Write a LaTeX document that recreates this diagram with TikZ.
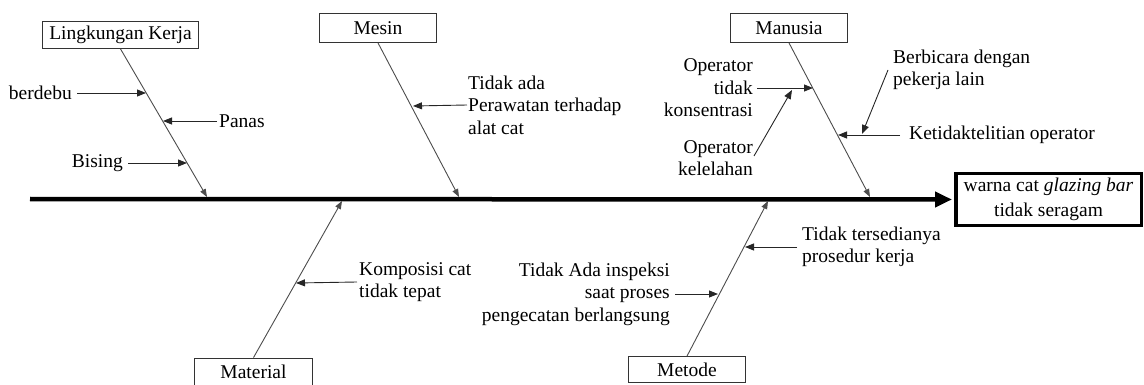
\documentclass[tikz,border=0pt]{standalone}
\usepackage{fontspec}
\setmainfont{Liberation Serif}
\newfontfamily\diagfont{Liberation Serif}
\usetikzlibrary{arrows.meta}
\begin{document}
\begin{tikzpicture}[x=1pt,y=-1pt,
  every node/.style={font=\diagfont\fontsize{19.5}{22.5}\selectfont, inner sep=0pt},
  catbox/.style={draw=black!80, line width=0.8pt, minimum height=29pt, minimum width=117pt},
  bone/.style={draw=black!70, line width=0.9pt, -{Triangle[length=8pt,width=6pt]}},
  sub/.style={draw=black!85, line width=0.9pt, -{Triangle[length=9pt,width=7pt]}},
  spine/.style={draw=black, line width=4.5pt, -{Triangle[length=17pt,width=15pt]}}]
\useasboundingbox (0,0) rectangle (1144,385);

% category boxes
\node[catbox, minimum width=156pt, minimum height=27pt] (LK) at (120.5,35) {Lingkungan Kerja};
\node[catbox, minimum height=29pt] (Me) at (378,28) {Mesin};
\node[catbox, minimum height=29pt] (Ma) at (789,28) {Manusia};
\node[catbox, minimum width=118pt, minimum height=28pt] (Mat) at (253.5,372) {Material};
\node[catbox, minimum height=26pt] (Met) at (687,369.5) {Metode};

% effect
\node[draw=black, line width=3.5pt, minimum width=185.5pt, minimum height=51.5pt, align=center] (eff) at (1048.5,199.5) {warna cat \textit{glazing bar}\\[3pt]tidak seragam};

% spine
\coordinate (sp0) at (30,199);
\draw[spine, shorten >=2pt] (sp0) -- (eff.west);

% bones
\coordinate (tLK) at (207,197);
\coordinate (tMe) at (459,197);
\coordinate (tMa) at (870,197);
\coordinate (tMat) at (342,201);
\coordinate (tMet) at (768,201);
\draw[bone] (LK.south) -- (tLK);
\draw[bone] (Me.south) -- (tMe);
\draw[bone] (Ma.south) -- (tMa);
\draw[bone] (Mat.north) -- (tMat);
\draw[bone] (Met.north) -- (tMet);

% Lingkungan Kerja causes
\node[anchor=east] (c1) at (72,93) {berdebu};
\coordinate (c1t) at (146,93);
\draw[sub] ([xshift=5pt]c1.east) -- (c1t);
\node[anchor=west] (c2) at (219,121) {Panas};
\coordinate (c2t) at (163,121);
\draw[sub] ([xshift=-2pt]c2.west) -- (c2t);
\node[anchor=east] (c3) at (123,163) {Bising};
\coordinate (c3t) at (187,163);
\draw[sub] ([xshift=5pt]c3.east) -- (c3t);

% Mesin cause
\node[anchor=west, align=left] (c4) at (468,105) {Tidak ada\\Perawatan terhadap\\alat cat};
\coordinate (c4t) at (413,106);
\draw[sub] ([xshift=-1pt]c4.west) -- (c4t);

% Manusia causes
\node[anchor=east, align=right] (c5) at (753,88) {Operator\\tidak\\konsentrasi};
\coordinate (c5t) at (813,88);
\draw[sub] ([xshift=4pt]c5.east) -- (c5t);
\node[anchor=east, align=right] (c6) at (753,158) {Operator\\kelelahan};
\coordinate (c6t) at (792,90);
\draw[sub] ([xshift=1pt,yshift=2pt]c6.east) -- (c6t);
\node[anchor=west, align=left] (c7) at (893,70) {Berbicara dengan\\pekerja lain};
\coordinate (c7t) at (862,134);
\draw[sub] ([xshift=-5pt]c7.west) -- (c7t);
\node[anchor=west] (c8) at (909,135) {Ketidaktelitian operator};
\coordinate (c8t) at (838,135);
\draw[sub] ([xshift=-9pt]c8.west) -- (c8t);

% Material cause
\node[anchor=west, align=left] (c9) at (359,282) {Komposisi cat\\tidak tepat};
\coordinate (c9t) at (296,283);
\draw[sub] ([xshift=-2pt]c9.west) -- (c9t);

% Metode causes
\node[anchor=west, align=left] (c10) at (802,247) {Tidak tersedianya\\prosedur kerja};
\coordinate (c10t) at (745,247);
\draw[sub] ([xshift=-5pt]c10.west) -- (c10t);
\node[anchor=east, align=right] (c11) at (670,294) {Tidak Ada inspeksi\\saat proses\\pengecatan berlangsung};
\coordinate (c11t) at (718,294);
\draw[sub] ([xshift=5pt]c11.east) -- (c11t);
\end{tikzpicture}
\end{document}
